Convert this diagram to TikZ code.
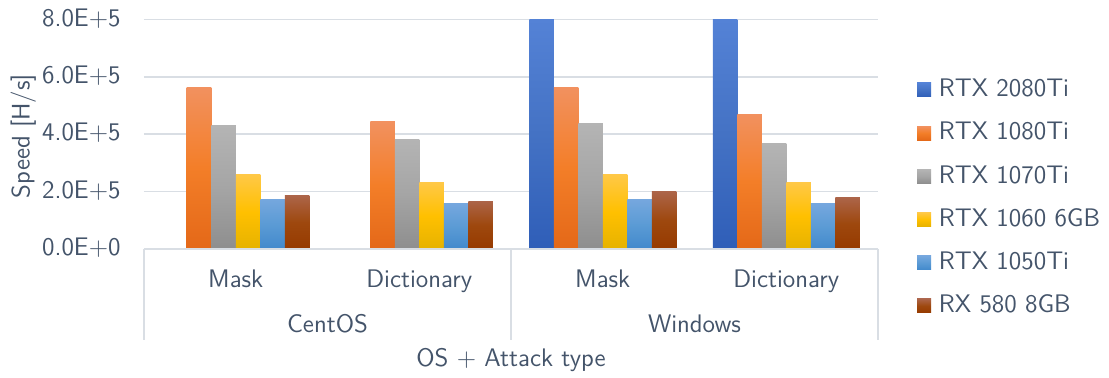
\documentclass[tikz,border=0pt]{standalone}
\usepackage{tikz}
\usetikzlibrary{positioning}
\definecolor{txtgray}{RGB}{68,84,106}
\definecolor{gridgray}{RGB}{217,222,228}
% bar colours: top, middle, bottom
\definecolor{s0t}{RGB}{84,130,214}\definecolor{s0m}{RGB}{68,114,196}\definecolor{s0b}{RGB}{47,94,184}
\definecolor{s1t}{RGB}{242,145,95}\definecolor{s1m}{RGB}{243,126,40}\definecolor{s1b}{RGB}{228,104,24}
\definecolor{s2t}{RGB}{180,180,180}\definecolor{s2m}{RGB}{165,165,165}\definecolor{s2b}{RGB}{142,142,142}
\definecolor{s3t}{RGB}{255,200,70}\definecolor{s3m}{RGB}{255,192,0}\definecolor{s3b}{RGB}{230,178,0}
\definecolor{s4t}{RGB}{117,167,222}\definecolor{s4m}{RGB}{91,155,213}\definecolor{s4b}{RGB}{66,137,204}
\definecolor{s5t}{RGB}{172,100,72}\definecolor{s5m}{RGB}{158,72,14}\definecolor{s5b}{RGB}{150,58,0}

\begin{document}
\begin{tikzpicture}[x=0.5pt, y=0.5pt,
    lbl/.style={font=\sffamily\fontsize{12.7}{15}\selectfont, text=txtgray, inner sep=0pt, text height=1.55ex, text depth=0pt},
    gridln/.style={line width=0.8pt, gridgray},
    legsq/.style={minimum size=7pt, inner sep=0pt}]
    \useasboundingbox (-144,-129) rectangle (965,249);

    % Grid lines and tick labels
    \foreach \v/\t in {1/2.0E+5, 2/4.0E+5, 3/6.0E+5, 4/8.0E+5}
        \draw [gridln] (0,\v*57.4) -- (734,\v*57.4);
    \foreach \v/\t in {0/0.0E+0, 1/2.0E+5, 2/4.0E+5, 3/6.0E+5, 4/8.0E+5}
        \node [lbl, anchor=east] (tick\v) at (-23,\v*57.4) {\t};

    % Bars
    \foreach \cx/\a/\b/\c/\d/\e/\f in {91.75/0/56.4/42.9/25.8/17.4/18.5, 275.25/0/44.3/38.3/23.0/15.7/16.7,
                                      458.75/80/56.4/43.6/25.8/17.1/19.9, 642.25/80/47.0/36.6/23.0/15.7/17.8}
        \foreach \v [count=\n from 0] in {\a,\b,\c,\d,\e,\f} {
            \ifdim \v pt>0pt
                \shade [top color=s\n t, bottom color=s\n b, middle color=s\n m]
                    (\cx-73.5+\n*24.5,0) rectangle ++(24.5,\v*2.87);
            \fi
        }

    % Category axis
    \draw [gridln, line width=1pt] (0,0) -- (734,0);
    \foreach \x in {0, 367, 734}
        \draw [gridln] (\x,0) -- (\x,-91);
    \foreach \x/\t [count=\n] in {91.75/Mask, 275.25/Dictionary, 458.75/Mask, 642.25/Dictionary}
        \node [lbl] (cat\n) at (\x,-32) {\t};
    \node [lbl] (centos) at (183.5,-77) {CentOS};
    \node [lbl] (windows) at (550.5,-77) {Windows};
    \node [lbl] (xtitle) at (367,-111) {OS + Attack type};
    \node [lbl, rotate=90] (ytitle) at (-121,113) {Speed [H/s]};

    % Legend
    \foreach \t [count=\n from 0] in {RTX 2080Ti, RTX 1080Ti, RTX 1070Ti, RTX 1060 6GB, RTX 1050Ti, RX 580 8GB} {
        \node [legsq, top color=s\n t, bottom color=s\n b, middle color=s\n m] (key\n) at (780,159-\n*43.2) {};
        \node [lbl, right=3.5pt of key\n] (lab\n) {\t};
    }
\end{tikzpicture}
\end{document}
